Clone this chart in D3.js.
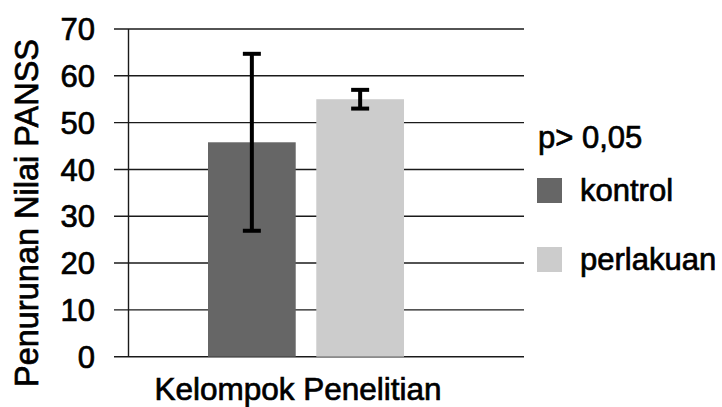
<!DOCTYPE html>
<html>
<head>
<meta charset="utf-8">
<script src="https://cdn.jsdelivr.net/npm/d3@7"></script>
<style>
  html, body { margin: 0; padding: 0; background: #fff; }
  svg { display: block; font-family: "Liberation Sans", Arial, Helvetica, sans-serif; }
  svg text { fill: #000; stroke: #000; stroke-width: 0.7px; }
</style>
</head>
<body>
<svg id="chart" width="722" height="407"></svg>
<script>
// Penurunan nilai PANSS per kelompok (rerata ± SD)
const groups = ["kontrol", "perlakuan"];
const means = [45.8, 55.0];
const errors = [18.9, 2.0];
const colors = ["#666666", "#cccccc"];
const yTicks = [0, 10, 20, 30, 40, 50, 60, 70];
const yTitle = "Penurunan Nilai PANSS";
const xTitle = "Kelompok Penelitian";
const note = "p> 0,05";

const svg = d3.select("#chart");
const plot = { left: 128.5, right: 524, top: 29, bottom: 356.7 };

const y = d3.scaleLinear().domain([0, 70]).range([plot.bottom, plot.top]);
const x = d3.scaleBand().domain(groups).range([208, 404]).paddingInner(0.19).paddingOuter(0);

// gridlines with left tick stubs
svg.append("g").selectAll("line").data(yTicks).join("line")
  .attr("x1", 114).attr("x2", plot.right)
  .attr("y1", d => y(d)).attr("y2", d => y(d))
  .attr("stroke", "#1a1a1a").attr("stroke-width", 1.4);

// vertical axis line
svg.append("line")
  .attr("x1", plot.left).attr("x2", plot.left)
  .attr("y1", y(70)).attr("y2", y(0))
  .attr("stroke", "#1a1a1a").attr("stroke-width", 1.4);

// tick labels
svg.append("g").selectAll("text").data(yTicks).join("text")
  .attr("x", 95).attr("y", d => y(d))
  .attr("dy", "0.36em")
  .attr("text-anchor", "end")
  .attr("font-size", 31)
  .text(d => d);

// bars
svg.append("g").selectAll("rect").data(groups).join("rect")
  .attr("x", d => x(d))
  .attr("width", x.bandwidth())
  .attr("y", (d, i) => y(means[i]))
  .attr("height", (d, i) => y(0) - y(means[i]))
  .attr("fill", (d, i) => colors[i]);

// error bars
const eb = svg.append("g").attr("stroke", "#000").attr("stroke-width", 4);
groups.forEach((g, i) => {
  const cx = x(g) + x.bandwidth() / 2;
  const lo = y(means[i] - errors[i]);
  const hi = y(means[i] + errors[i]);
  eb.append("line").attr("x1", cx).attr("x2", cx).attr("y1", hi).attr("y2", lo);
  eb.append("line").attr("x1", cx - 9).attr("x2", cx + 9).attr("y1", hi).attr("y2", hi);
  eb.append("line").attr("x1", cx - 9).attr("x2", cx + 9).attr("y1", lo).attr("y2", lo);
});

// axis titles
svg.append("text")
  .attr("transform", `translate(38, 213) rotate(-90)`)
  .attr("text-anchor", "middle")
  .attr("font-size", 32.5)
  .text(yTitle);

svg.append("text")
  .attr("x", 298).attr("y", 400)
  .attr("text-anchor", "middle")
  .attr("font-size", 31.5)
  .text(xTitle);

// legend
const legend = svg.append("g");
legend.append("text")
  .attr("x", 538).attr("y", 148)
  .attr("font-size", 31)
  .text(note);
const rows = legend.selectAll("g.row").data(groups).join("g")
  .attr("class", "row")
  .attr("transform", (d, i) => `translate(537, ${178 + i * 69})`);
rows.append("rect")
  .attr("width", 25).attr("height", 25)
  .attr("fill", (d, i) => colors[i]);
rows.append("text")
  .attr("x", 43).attr("y", 23)
  .attr("font-size", 31)
  .text(d => d);
</script>
</body>
</html>
